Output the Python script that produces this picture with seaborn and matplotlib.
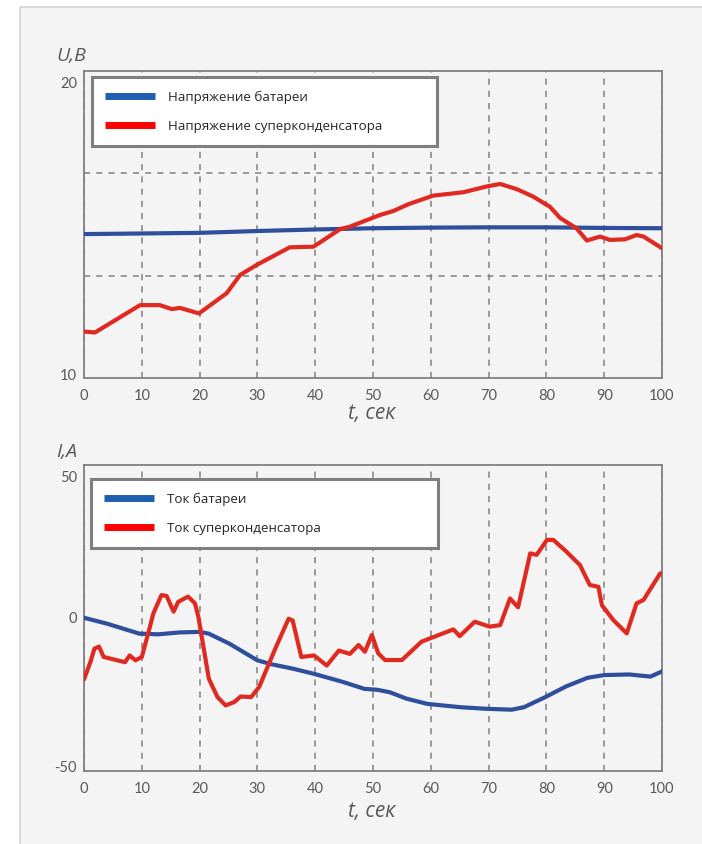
import numpy as np
import matplotlib
matplotlib.use("Agg")
import matplotlib.pyplot as plt
import matplotlib.transforms as mtransforms
from matplotlib.lines import Line2D
from matplotlib.patches import Rectangle
import seaborn as sns

# region Данные
# напряжение батареи, В
t_u_bat = [0, 10, 20, 30, 40, 50, 60, 70, 80, 90, 100]
u_bat = [14.68, 14.70, 14.72, 14.78, 14.83, 14.87, 14.89, 14.90, 14.90, 14.88, 14.87]

# напряжение суперконденсатора, В
t_u_sc = [0, 1.9, 9.7, 13.1, 15.2, 16.6, 19.9, 24.7, 27.0, 29.9, 35.6, 39.7, 44.3, 46.0,
          48.3, 51.2, 53.5, 56.1, 60.4, 65.6, 69.7, 72.0, 74.9, 77.7, 80.6, 82.4, 85.2,
          87.0, 89.3, 91.0, 93.6, 95.6, 96.8, 100]
u_sc = [11.51, 11.48, 12.37, 12.37, 12.24, 12.28, 12.10, 12.76, 13.35, 13.68, 14.25, 14.27,
        14.84, 14.92, 15.09, 15.30, 15.43, 15.65, 15.93, 16.04, 16.23, 16.31, 16.14, 15.90,
        15.57, 15.20, 14.87, 14.47, 14.60, 14.49, 14.51, 14.65, 14.60, 14.22]

# ток батареи, А
t_i_bat = [0, 4.1, 9.6, 12.9, 16.5, 20.1, 21.6, 25.2, 30.0, 32.5, 36.1, 39.8, 44.9, 48.5,
           50.7, 52.9, 55.8, 59.4, 65.2, 69.6, 74.0, 76.1, 79.8, 83.4, 87.1, 90.0, 94.3,
           98.0, 100]
i_bat = [0, -2.0, -5.2, -5.4, -4.8, -4.6, -5.2, -8.5, -13.9, -15.2, -16.6, -18.3, -21.0,
         -23.2, -23.5, -24.3, -26.4, -28.1, -29.2, -29.7, -30.0, -29.2, -25.9, -22.4, -19.6,
         -18.7, -18.5, -19.2, -17.5]

# ток суперконденсатора, А
t_i_sc = [0, 1.1, 1.8, 2.6, 3.4, 7.1, 7.9, 8.9, 10.0, 11.4, 12.0, 13.4, 14.3, 15.5, 16.3,
          18.0, 19.2, 19.8, 21.6, 23.1, 24.5, 26.0, 27.1, 28.9, 30.3, 33.2, 35.4, 36.1,
          37.6, 39.8, 42.0, 44.1, 46.0, 47.5, 48.6, 49.8, 50.9, 52.1, 55.0, 58.4, 62.8,
          63.9, 65.0, 67.6, 70.2, 72.0, 73.7, 75.1, 77.2, 78.3, 80.1, 81.2, 83.5, 85.8,
          87.5, 89.0, 89.6, 91.6, 93.9, 95.6, 96.8, 99.7]
i_sc = [-20.1, -14.5, -10.1, -9.4, -12.8, -14.5, -12.3, -13.9, -12.8, -3.0, 1.4, 7.4, 7.1,
        2.0, 5.2, 6.9, 4.7, 0.2, -19.9, -25.9, -28.6, -27.5, -25.7, -25.9, -22.6, -9.6,
        -0.3, -0.9, -12.8, -12.3, -15.6, -10.7, -11.8, -8.9, -11.1, -5.6, -11.6, -13.8,
        -13.8, -7.8, -4.6, -3.8, -6.0, -1.3, -2.9, -2.4, 6.3, 3.4, 21.0, 20.5, 25.4, 25.4,
        21.5, 17.2, 10.7, 10.1, 4.1, -0.8, -5.1, 4.7, 5.8, 14.5]

x_ticks = [0, 10, 20, 30, 40, 50, 60, 70, 80, 90, 100]
# endregion

sns.set_style("white")
plt.rcParams['font.family'] = ['Open Sans', 'DejaVu Sans']
plt.rcParams['axes.unicode_minus'] = False

BLUE = '#2f4f9c'
RED = '#df2a22'
GRAY = '#595959'
GRID = '#808080'

fig = plt.figure(figsize=(7.02, 8.44), dpi=100)
fig.patch.set_facecolor('white')
fig.patches.append(Rectangle((20 / 702, -0.01), 1.0, 1 - 7 / 844 + 0.01,
                             transform=fig.transFigure, facecolor='#f4f4f4',
                             edgecolor='#d4d4d4', lw=1.2, zorder=-10))

ax1 = fig.add_axes([84 / 702, 1 - 378 / 844, 578 / 702, 307.5 / 844])
ax2 = fig.add_axes([84 / 702, 1 - 771 / 844, 578 / 702, 306.5 / 844])


def style_axis(ax, ylim, yticks, hgrid):
    ax.set_facecolor('none')
    ax.set_xlim(0, 100)
    ax.set_ylim(*ylim)
    ax.set_xticks(x_ticks)
    ax.set_yticks(yticks)
    ax.set_yticks(hgrid, minor=True)
    ax.grid(False)
    ax.xaxis.grid(True, which='major', color=GRID, linestyle=(0, (4, 4)), lw=1.1)
    ax.yaxis.grid(True, which='minor', color=GRID, linestyle=(0, (4, 4)), lw=1.1)
    for s in ax.spines.values():
        s.set_color(GRID)
        s.set_linewidth(1.3)
        s.set_visible(True)
    ax.tick_params(axis='both', which='both', length=0, labelsize=10.5, labelcolor=GRAY)
    ax.tick_params(axis='x', pad=8)
    ax.tick_params(axis='y', pad=5)
    ax.set_xlabel('')
    ax.set_ylabel('')
    for lab in ax.get_xticklabels() + ax.get_yticklabels():
        lab.set_family(['Lato', 'DejaVu Sans'])
    # подписи крайних значений оси Y чуть внутрь, как в оригинале
    labs = ax.get_yticklabels()
    down = mtransforms.ScaledTranslation(0, -12 / 100, fig.dpi_scale_trans)
    up = mtransforms.ScaledTranslation(0, 4 / 100, fig.dpi_scale_trans)
    labs[-1].set_transform(labs[-1].get_transform() + down)
    labs[0].set_transform(labs[0].get_transform() + up)


# Верхний график: напряжения
sns.lineplot(x=t_u_bat, y=u_bat, ax=ax1, color=BLUE, lw=3.0, zorder=3)
sns.lineplot(x=t_u_sc, y=u_sc, ax=ax1, color=RED, lw=3.0, zorder=4)
style_axis(ax1, (10, 20), [10, 20], [10 + 10 / 3, 10 + 20 / 3])

# Нижний график: токи
sns.lineplot(x=t_i_bat, y=i_bat, ax=ax2, color=BLUE, lw=3.0, zorder=3)
sns.lineplot(x=t_i_sc, y=i_sc, ax=ax2, color=RED, lw=3.0, zorder=4)
style_axis(ax2, (-50, 50), [-50, 0, 50], [0])

for ln in ax1.get_lines() + ax2.get_lines():
    ln.set_solid_joinstyle('round')
    ln.set_solid_capstyle('round')


def add_legend(ax, labels, box):
    handles = [Line2D([], [], color='#1f5fb0', lw=5, solid_capstyle='butt'),
               Line2D([], [], color='#ff0000', lw=5, solid_capstyle='butt')]
    leg = ax.legend(handles, labels, loc='upper left', bbox_to_anchor=box, mode='expand',
                    fontsize=9.6, frameon=True, fancybox=False, handlelength=3.7,
                    handletextpad=1.0, labelspacing=1.2, borderpad=1.0,
                    borderaxespad=0)
    fr = leg.get_frame()
    fr.set_edgecolor('#7f7f7f')
    fr.set_linewidth(2.2)
    fr.set_facecolor('white')
    fr.set_alpha(1)
    leg.set_zorder(10)


add_legend(ax1, ['Напряжение батареи', 'Напряжение суперконденсатора'],
           (0.014, 0.0, 0.597, 0.978))
add_legend(ax2, ['Ток батареи', 'Ток суперконденсатора'],
           (0.012, 0.0, 0.600, 0.953))

# Подписи осей
fig.text(56 / 702, 1 - 56 / 844, 'U,B', fontsize=14, style='italic', color=GRAY,
         ha='left', va='center')
fig.text(56 / 702, 1 - 452 / 844, 'I,A', fontsize=14, style='italic', color=GRAY,
         ha='left', va='center')
fig.text(372 / 702, 1 - 413 / 844, 't, сек', fontsize=15, style='italic', color=GRAY,
         ha='center', va='center')
fig.text(372 / 702, 1 - 811 / 844, 't, сек', fontsize=15, style='italic', color=GRAY,
         ha='center', va='center')

fig.savefig('out.png', dpi=100, facecolor=fig.get_facecolor())
